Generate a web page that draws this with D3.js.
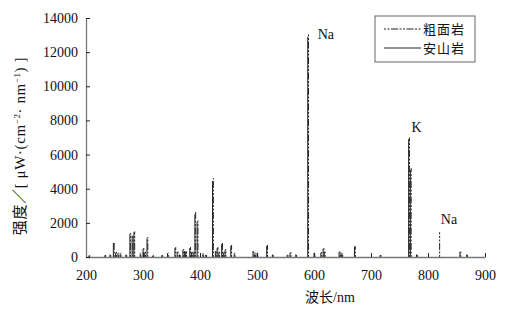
<!DOCTYPE html>
<html>
<head>
<meta charset="utf-8">
<script src="https://cdn.jsdelivr.net/npm/d3@7"></script>
<style>
  body { margin: 0; background: #fff; }
  svg text { font-family: "Liberation Serif", "Times New Roman", "DejaVu Serif", "Noto Sans CJK SC", serif; fill: #111; }
</style>
</head>
<body>
<svg id="chart" width="516" height="312"></svg>
<script>
// emission lines (wavelength in nm)
const wavelengths = [205, 233, 242, 248, 252, 256, 260, 270, 277, 281, 284, 295, 300, 303, 307,
  317, 333, 343, 356, 360, 364, 370, 373, 375, 382, 385, 388, 391, 395, 405, 410, 422, 427, 430,
  433, 438, 441, 444, 454, 460, 493, 496, 500, 517, 527, 553, 558, 568, 589, 600, 612, 616, 618,
  644, 647, 649, 671, 716, 766, 769, 780, 819, 856, 868];
// 粗面岩 intensities
const trachyte = [100, 120, 180, 880, 300, 250, 250, 170, 1400, 1280, 1500, 250, 520, 300, 1170,
  100, 130, 250, 580, 330, 200, 470, 400, 350, 580, 300, 300, 2630, 2160, 230, 150, 4620, 400, 580,
  300, 820, 300, 470, 700, 250, 400, 250, 250, 700, 180, 150, 290, 180, 13100, 250, 290, 520, 350,
  350, 250, 230, 640, 150, 7000, 5200, 180, 1450, 350, 170];
// 安山岩 intensities
const andesite = [80, 100, 150, 820, 250, 220, 200, 150, 1350, 1250, 1450, 200, 480, 250, 1100,
  80, 100, 220, 520, 300, 150, 430, 350, 300, 520, 280, 250, 2500, 2050, 200, 120, 4450, 350, 520,
  250, 760, 250, 420, 650, 220, 350, 200, 220, 650, 150, 130, 250, 150, 12900, 220, 250, 480, 300,
  300, 200, 200, 600, 120, 6900, 5100, 150, 0, 300, 150];

const xTicks = [200, 300, 400, 500, 600, 700, 800, 900];
const yTicks = [0, 2000, 4000, 6000, 8000, 10000, 12000, 14000];

const elementLabels = [
  { name: "Na", w: 589, v: 13100, dx: 10, dy: 6 },
  { name: "K", w: 766, v: 7000, dx: 3, dy: -6 },
  { name: "Na", w: 819, v: 1450, dx: 2, dy: -8 }
];

const series = [
  { name: "粗面岩", values: trachyte, dash: "2,1.5,2,1.5,7,1.5", shift: 0.8 },
  { name: "安山岩", values: andesite, dash: null, shift: 0 }
];

const svg = d3.select("#chart"),
      margin = { top: 18, right: 31, bottom: 55, left: 86 },
      width = +svg.attr("width") - margin.left - margin.right,
      height = +svg.attr("height") - margin.top - margin.bottom;

const g = svg.append("g").attr("transform", `translate(${margin.left},${margin.top})`);

const x = d3.scaleLinear().domain([200, 900]).range([0, width]);
const y = d3.scaleLinear().domain([0, 14000]).range([height, 0]);

// spectra: one vertical stick per line, solid first, dash-dot on top
series.slice().reverse().forEach(s => {
  g.append("g")
    .attr("transform", `translate(${s.shift},0)`)
    .selectAll("line")
    .data(wavelengths.map((w, i) => ({ w, v: s.values[i] })).filter(d => d.v > 0))
    .enter()
    .append("line")
    .attr("x1", d => x(d.w))
    .attr("x2", d => x(d.w))
    .attr("y1", y(0))
    .attr("y2", d => y(d.v))
    .attr("stroke", "#222")
    .attr("stroke-width", 1)
    .attr("stroke-dasharray", s.dash);
});

// axes
const xAxis = g.append("g")
  .attr("transform", `translate(0,${height})`)
  .call(d3.axisBottom(x).tickValues(xTicks).tickFormat(d3.format("d"))
    .tickSize(-4).tickSizeOuter(0).tickPadding(13));
const yAxis = g.append("g")
  .call(d3.axisLeft(y).tickValues(yTicks).tickFormat(d3.format("d"))
    .tickSize(-4).tickSizeOuter(0).tickPadding(8));

[xAxis, yAxis].forEach(a => {
  a.attr("font-family", null);
  a.select(".domain").attr("stroke", "#777").attr("stroke-width", 1.3);
  a.selectAll(".tick line").attr("stroke", "#222");
  a.selectAll(".tick text")
    .attr("fill", "#111")
    .style("font-size", "14px");
});

// element labels
g.selectAll(".elem")
  .data(elementLabels)
  .enter()
  .append("text")
  .attr("x", d => x(d.w) + d.dx)
  .attr("y", d => y(d.v) + d.dy)
  .style("font-size", "14px")
  .text(d => d.name);

// axis titles
svg.append("text")
  .attr("x", 330)
  .attr("y", 302)
  .attr("text-anchor", "middle")
  .style("font-size", "14px")
  .text("波长/nm");

svg.append("text")
  .attr("transform", "translate(25,146) rotate(-90)")
  .attr("text-anchor", "middle")
  .style("font-size", "15px")
  .style("letter-spacing", "0.6px")
  .html("强度／[ μW·(cm<tspan dy='-5' font-size='9'>−2</tspan><tspan dy='5'>· nm</tspan><tspan dy='-5' font-size='9'>−1</tspan><tspan dy='5'>) ]</tspan>");

// legend
const legend = svg.append("g").attr("transform", "translate(375,16)");
legend.append("rect")
  .attr("width", 100)
  .attr("height", 46)
  .attr("fill", "#fff")
  .attr("stroke", "#666")
  .attr("stroke-width", 1);

series.forEach((s, i) => {
  const row = legend.append("g").attr("transform", `translate(0,${13 + i * 19})`);
  row.append("line")
    .attr("x1", 9).attr("x2", 46)
    .attr("y1", 0).attr("y2", 0)
    .attr("stroke", "#222")
    .attr("stroke-width", 1.2)
    .attr("stroke-dasharray", s.dash);
  row.append("text")
    .attr("x", 48)
    .attr("y", 5)
    .style("font-size", "13px")
    .style("letter-spacing", "1px")
    .style("font-family", "'Noto Sans CJK SC', sans-serif")
    .text(s.name);
});
</script>
</body>
</html>
